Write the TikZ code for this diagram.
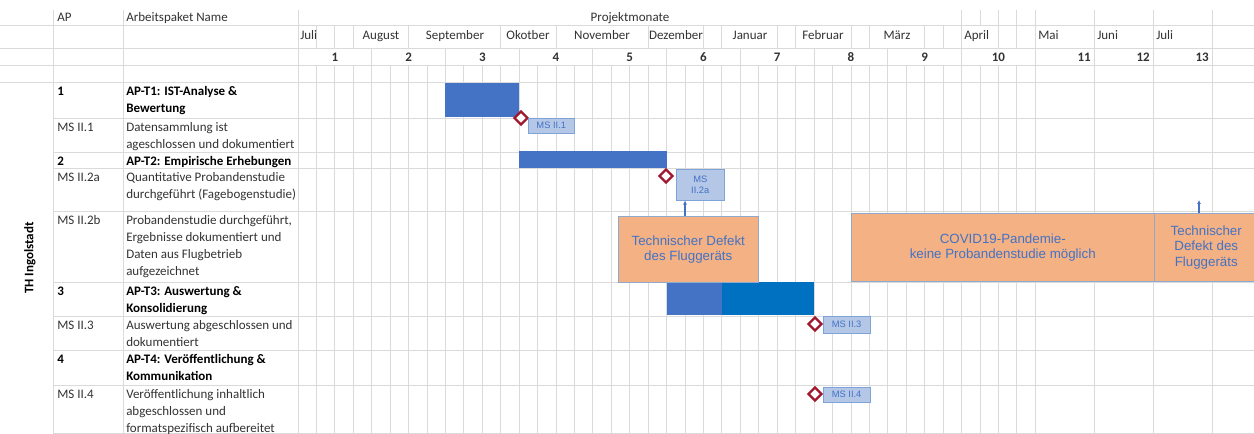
\documentclass[tikz,border=0pt]{standalone}
\usepackage{fontspec}
\setmainfont{Carlito}
\newfontfamily\boxfont{Liberation Sans}
\usetikzlibrary{shapes.geometric,arrows.meta}

\definecolor{gridgray}{HTML}{DADADA}
\definecolor{celltext}{HTML}{333333}
\definecolor{barblue}{HTML}{4472C4}
\definecolor{bardark}{HTML}{0070C0}
\definecolor{msred}{HTML}{A0182E}
\definecolor{msfill}{HTML}{B4C7E7}
\definecolor{msline}{HTML}{7FA3D9}
\definecolor{delayfill}{HTML}{F4B183}
\definecolor{delayline}{HTML}{8EA9CB}
\definecolor{notetext}{HTML}{4472C4}

\tikzset{
  gridline/.style={draw=gridgray, line width=0.6pt},
  cell/.style={anchor=north west, inner sep=0pt, align=left, text=celltext,
    font=\fontsize{9.75}{12.75}\selectfont},
  cellbold/.style={cell, text=black, font=\fontsize{9.75}{12.75}\selectfont\bfseries},
  msdiamond/.style={diamond, draw=msred, fill=white, line width=1.8pt,
    inner sep=0pt, minimum width=10.5pt, minimum height=10.5pt},
  mslabel/.style={anchor=north west, draw=msline, fill=msfill, text=notetext,
    inner sep=0pt, align=center, font=\boxfont\fontsize{7}{8.5}\selectfont},
  delaybox/.style={anchor=north west, draw=delayline, fill=delayfill, text=notetext,
    inner sep=0pt, align=center, font=\boxfont\fontsize{10}{11.5}\selectfont},
  notearrow/.style={draw=barblue, line width=0.8pt, -{Latex[length=3pt,width=3pt]}},
}

\begin{document}
\begin{tikzpicture}[x=0.75pt, y=-0.75pt]
  \clip (0,0) rectangle (1254,434);
  \fill[white] (0,0) rectangle (1254,434);

  % grid: columns of the chart
  \foreach \k in {0,...,40} \draw[gridline] ({298+18.43*\k},65) -- ({298+18.43*\k},434);
  \foreach \k in {0,4,...,40} \draw[gridline] ({298+18.43*\k},48) -- ({298+18.43*\k},65);
  \foreach \k in {0,1,2,3,6,11,14,19,22,23,26,27,30,31,34,35,36,38,39,40}
    \draw[gridline] ({298+18.43*\k},25) -- ({298+18.43*\k},48);
  \foreach \k in {0,36,37,38,39,40} \draw[gridline] ({298+18.43*\k},10) -- ({298+18.43*\k},25);
  \foreach \xx in {1094,1153,1212} \draw[gridline] (\xx,10) -- (\xx,434);
  \foreach \xx in {53,123} \draw[gridline] (\xx,10) -- (\xx,434);
  % grid: rows
  \foreach \yy in {25,48,65,82} \draw[gridline] (0,\yy) -- (1254,\yy);
  \foreach \yy in {118,152,168,211,282,316,350,385,433} \draw[gridline] (53,\yy) -- (1254,\yy);

  % header
  \node[cell] (hAP) at (57,9) {\strut AP};
  \node[cell] (hName) at (126,9) {\strut Arbeitspaket Name};
  \node[cell, anchor=north] (hMonths) at (630,9) {\strut Projektmonate};
  \node[cell] (mJul) at (300,27) {\strut Juli};
  \node[cell, anchor=north] (mAug) at (381,27) {\strut August};
  \node[cell, anchor=north] (mSep) at (455,27) {\strut September};
  \node[cell, anchor=north] (mOkt) at (528,27) {\strut Okotber};
  \node[cell, anchor=north] (mNov) at (602,27) {\strut November};
  \node[cell, anchor=north] (mDez) at (676,27) {\strut Dezember};
  \node[cell, anchor=north] (mJan) at (750,27) {\strut Januar};
  \node[cell, anchor=north] (mFeb) at (823,27) {\strut Februar};
  \node[cell, anchor=north] (mMar) at (897,27) {\strut März};
  \node[cell] (mApr) at (964,27) {\strut April};
  \node[cell] (mMai) at (1038,27) {\strut Mai};
  \node[cell] (mJun) at (1097,27) {\strut Juni};
  \node[cell] (mJul2) at (1156,27) {\strut Juli};
  \foreach \n in {1,...,10}
    \node[cellbold, text=celltext, anchor=north] (num\n) at ({298+18.43*(4*\n-2)},49) {\strut\n};
  \node[cellbold, text=celltext, anchor=north east] (num11) at (1091,49) {\strut 11};
  \node[cellbold, text=celltext, anchor=north east] (num12) at (1150,49) {\strut 12};
  \node[cellbold, text=celltext, anchor=north east] (num13) at (1209,49) {\strut 13};

  % work packages
  \node[cellbold, rotate=90, anchor=center] (site) at (30,258) {TH Ingolstadt};
  \node[cellbold] (ap1) at (57,83) {\strut 1};
  \node[cellbold] (name1) at (126,83) {\strut AP-T1: IST-Analyse \&\\Bewertung};
  \node[cell] (ms1) at (57,119) {\strut MS II.1};
  \node[cell] (msname1) at (126,119) {\strut Datensammlung ist\\ageschlossen und dokumentiert};
  \node[cellbold] (ap2) at (57,153) {\strut 2};
  \node[cellbold] (name2) at (126,153) {\strut AP-T2: Empirische Erhebungen};
  \node[cell] (ms2a) at (57,169) {\strut MS II.2a};
  \node[cell] (msname2a) at (126,169) {\strut Quantitative Probandenstudie\\durchgeführt (Fagebogenstudie)};
  \node[cell] (ms2b) at (57,212) {\strut MS II.2b};
  \node[cell] (msname2b) at (126,212) {\strut Probandenstudie durchgeführt,\\Ergebnisse dokumentiert und\\Daten aus Flugbetrieb\\aufgezeichnet};
  \node[cellbold] (ap3) at (57,283) {\strut 3};
  \node[cellbold] (name3) at (126,283) {\strut AP-T3: Auswertung \&\\Konsolidierung};
  \node[cell] (ms3) at (57,317) {\strut MS II.3};
  \node[cell] (msname3) at (126,317) {\strut Auswertung abgeschlossen und\\dokumentiert};
  \node[cellbold] (ap4) at (57,351) {\strut 4};
  \node[cellbold] (name4) at (126,351) {\strut AP-T4: Veröffentlichung \&\\Kommunikation};
  \node[cell] (ms4) at (57,386) {\strut MS II.4};
  \node[cell] (msname4) at (126,386) {\strut Veröffentlichung inhaltlich\\abgeschlossen und\\formatspezifisch aufbereitet};

  % bars
  \fill[barblue] ({298+18.43*8},83) rectangle ({298+18.43*12},117);  % AP-T1
  \fill[barblue] ({298+18.43*12},151) rectangle ({298+18.43*20},168); % AP-T2
  \fill[barblue] ({298+18.43*20},282) rectangle ({298+18.43*23},315); % AP-T3
  \fill[bardark] ({298+18.43*23},282) rectangle ({298+18.43*28},315);

  % delays
  \node[delaybox, minimum width=105pt, minimum height=49.5pt] (defect1) at (618,216)
    {Technischer Defekt\\des Fluggeräts};
  \node[delaybox, minimum width=227.25pt, minimum height=51pt] (covid) at (851,213)
    {COVID19-Pandemie-\\keine Probandenstudie möglich};
  \node[delaybox, minimum width=78pt, minimum height=51pt] (defect2) at (1154,213)
    {Technischer\\Defekt des\\Fluggeräts};

  % milestones
  \node[msdiamond] (d1) at (521,118) {};
  \node[mslabel, minimum width=34.5pt, minimum height=11.25pt] (l1) at (528,118) {MS II.1};
  \node[msdiamond] (d2a) at (666,176) {};
  \node[mslabel, minimum width=36pt, minimum height=23.25pt] (l2a) at (676,169) {MS\\II.2a};
  \node[msdiamond] (d3) at (815,324) {};
  \node[mslabel, minimum width=35pt, minimum height=12.75pt] (l3) at (823,316) {MS II.3};
  \node[msdiamond] (d4) at (815,394) {};
  \node[mslabel, minimum width=35pt, minimum height=11.25pt] (l4) at (823,387) {MS II.4};

  % notes
  \coordinate (tip2) at (1199,200);
  \draw[notearrow] (defect1.north -| {(685,0)}) -- (l2a.south -| {(685,0)});
  \draw[notearrow] (defect2.north -| tip2) -- (tip2);
\end{tikzpicture}
\end{document}
